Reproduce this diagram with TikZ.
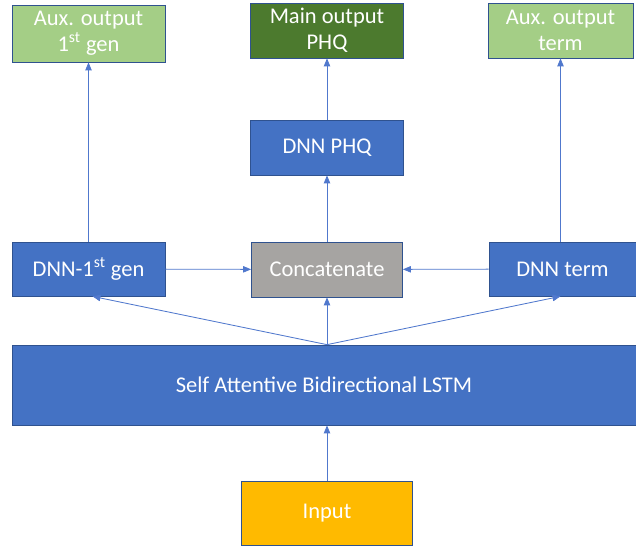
\documentclass[tikz,border=0pt]{standalone}
\usepackage{fontspec}
\setmainfont{Carlito}
\definecolor{nnblue}{RGB}{68,114,196}
\definecolor{nnedge}{RGB}{47,82,143}
\definecolor{nnarrow}{RGB}{80,120,205}
\definecolor{auxgreen}{RGB}{164,206,134}
\definecolor{maingreen}{RGB}{76,122,46}
\definecolor{concatgray}{RGB}{166,164,162}
\definecolor{inputorange}{RGB}{255,186,0}
\usetikzlibrary{arrows.meta,positioning}

\begin{document}
\begin{tikzpicture}[
  x=0.025cm,y=-0.025cm,
  box/.style={draw=nnedge,line width=0.5pt,text=white,align=center,
    font=\fontsize{16}{18.5}\selectfont,inner sep=0pt},
  arr/.style={-{Triangle[length=2mm,width=1.6mm]},nnarrow,line width=0.6pt}
]
  \useasboundingbox (0,0) rectangle (636,548);
  % Outputs
  \node[box,fill=auxgreen,minimum width=3.825cm,minimum height=1.425cm] (auxgen) at (88.5,33.5) {Aux. output\\1\textsuperscript{st} gen};
  \node[box,fill=maingreen,minimum width=3.825cm,minimum height=1.375cm] (mainout) at (327,30.5) {Main output\\PHQ};
  \node[box,fill=auxgreen,minimum width=3.625cm,minimum height=1.375cm] (auxterm) at (560.5,30.5) {Aux. output\\term};
  % Hidden layers
  \node[box,fill=nnblue,minimum width=3.825cm,minimum height=1.375cm] (dnnphq) at (327,147.5) {DNN PHQ};
  \node[box,fill=nnblue,minimum width=3.825cm,minimum height=1.35cm] (dnngen) at (88.5,269) {DNN-1\textsuperscript{st} gen};
  \node[box,fill=concatgray,minimum width=3.775cm,minimum height=1.375cm] (concat) at (327,269.5) {Concatenate};
  \node[box,fill=nnblue,minimum width=3.675cm,minimum height=1.35cm] (dnnterm) at (562.5,269) {DNN term};
  % Encoder and input
  \node[box,fill=nnblue,minimum width=15.6cm,minimum height=2cm] (lstm) at (324,385) {Self Attentive Bidirectional LSTM};
  \node[box,fill=inputorange,minimum width=4.275cm,minimum height=1.6cm] (input) at (327,513) {Input};
  % Arrows
  \draw[arr] (input) -- (input |- lstm.south);
  \draw[arr] (lstm.north -| concat) -- (concat);
  \draw[arr] (lstm.north -| concat) -- ([xshift=0.1cm]dnngen.south);
  \draw[arr] (lstm.north -| concat) -- ([xshift=-0.05cm]dnnterm.south);
  \draw[arr] (dnngen) -- (concat);
  \draw[arr] (dnnterm) -- (concat);
  \draw[arr] (concat) -- (dnnphq);
  \draw[arr] (dnnphq) -- (mainout);
  \draw[arr] (dnngen.north -| auxgen) -- (auxgen);
  \draw[arr] (dnnterm.north -| auxterm) -- (auxterm);
\end{tikzpicture}
\end{document}
